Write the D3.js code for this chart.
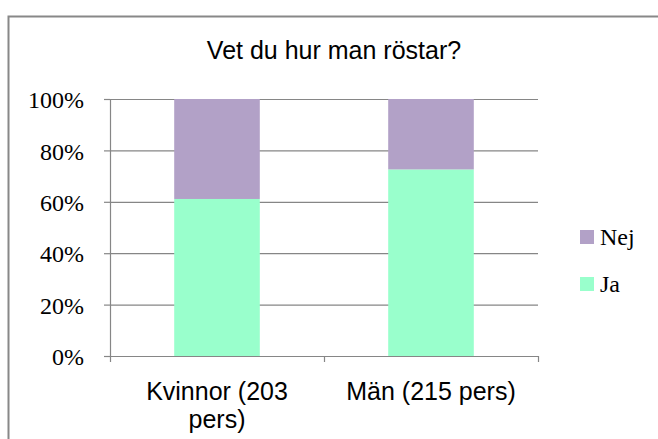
<!DOCTYPE html>
<html>
<head>
<meta charset="utf-8">
<script src="https://cdn.jsdelivr.net/npm/d3@7"></script>
<style>
  body { margin: 0; background: #fff; }
  svg { display: block; }
</style>
</head>
<body>
<svg id="chart"></svg>
<script>
// data
const categories = [['Kvinnor (203', 'pers)'], ['Män (215 pers)']];
const series = ['Ja', 'Nej'];
const jaValues = [0.611, 0.726];
const nejValues = [0.389, 0.274];
const yTicks = [0, 0.2, 0.4, 0.6, 0.8, 1];
const colors = {Ja: '#99ffcc', Nej: '#b2a1c7'};

const width = 658, height = 439;
const margin = {top: 99, right: 120, bottom: 83, left: 110};
const innerW = width - margin.left - margin.right;
const innerH = height - margin.top - margin.bottom;

const svg = d3.select('#chart')
    .attr('width', width)
    .attr('height', height);

// chart border (right and bottom run off the picture)
svg.append('rect')
    .attr('x', 8.5).attr('y', 16.5)
    .attr('width', 700).attr('height', 500)
    .attr('fill', 'none')
    .attr('stroke', '#888')
    .attr('stroke-width', 2);

svg.append('text')
    .attr('x', 334).attr('y', 59)
    .attr('text-anchor', 'middle')
    .style('font-family', '"Liberation Sans", Arial, sans-serif')
    .style('font-size', '25px')
    .text('Vet du hur man röstar?');

const chart = svg.append('g')
    .attr('transform', `translate(${margin.left},${margin.top})`);

const rows = categories.map((c, i) => ({key: i, Ja: jaValues[i], Nej: nejValues[i]}));
const stacked = d3.stack().keys(series)(rows);

const xScale = d3.scaleBand()
    .domain(rows.map(d => d.key))
    .range([0, innerW])
    .paddingInner(0.6)
    .paddingOuter(0.3);

const yScale = d3.scaleLinear()
    .domain([0, 1])
    .range([innerH, 0]);

// gridlines
chart.append('g')
    .selectAll('line')
    .data(yTicks)
    .join('line')
    .attr('x1', 0).attr('x2', innerW)
    .attr('y1', d => yScale(d) + 0.5).attr('y2', d => yScale(d) + 0.5)
    .attr('stroke', '#868686')
    .attr('stroke-width', 1.2);

// bars
chart.selectAll('.layer')
    .data(stacked)
    .join('g')
    .attr('class', 'layer')
    .attr('fill', d => colors[d.key])
    .selectAll('rect')
    .data(d => d)
    .join('rect')
    .attr('x', d => xScale(d.data.key))
    .attr('width', xScale.bandwidth())
    .attr('y', d => yScale(d[1]))
    .attr('height', d => yScale(d[0]) - yScale(d[1]));

// y axis
const yAxis = d3.axisLeft(yScale)
    .tickValues(yTicks)
    .tickSize(6)
    .tickPadding(20)
    .tickFormat(d3.format('.0%'));

const yAxisG = chart.append('g').call(yAxis);
yAxisG.selectAll('line, path').attr('stroke', '#868686').attr('stroke-width', 1.2);
yAxisG.select('.domain').attr('d', `M0.5,0V${innerH}`);
yAxisG.selectAll('text')
    .attr('dy', '0.36em')
    .attr('fill', '#000')
    .style('font-family', '"Liberation Serif", "Times New Roman", serif')
    .style('font-size', '24px');

// x axis with category separators
const xAxisG = chart.append('g')
    .attr('transform', `translate(0,${innerH})`);
xAxisG.append('line')
    .attr('x1', 0).attr('x2', innerW)
    .attr('y1', 0.5).attr('y2', 0.5)
    .attr('stroke', '#868686')
    .attr('stroke-width', 1.2);
const step = innerW / categories.length;
xAxisG.selectAll('.sep')
    .data(d3.range(categories.length + 1))
    .join('line')
    .attr('class', 'sep')
    .attr('x1', d => d * step + 0.5).attr('x2', d => d * step + 0.5)
    .attr('y1', 0).attr('y2', 6)
    .attr('stroke', '#868686')
    .attr('stroke-width', 1.2);

xAxisG.selectAll('.cat')
    .data(categories)
    .join('text')
    .attr('class', 'cat')
    .attr('text-anchor', 'middle')
    .attr('transform', (d, i) => `translate(${xScale(i) + xScale.bandwidth() / 2},44)`)
    .style('font-family', '"Liberation Sans", Arial, sans-serif')
    .style('font-size', '25px')
    .selectAll('tspan')
    .data(d => d)
    .join('tspan')
    .attr('x', 0)
    .attr('y', (d, i) => i * 28)
    .text(d => d);

// legend
const legend = svg.append('g')
    .attr('transform', 'translate(580,230)');
const legendItems = legend.selectAll('g')
    .data(series.slice().reverse())
    .join('g')
    .attr('transform', (d, i) => `translate(0,${i * 47})`);
legendItems.append('rect')
    .attr('width', 14).attr('height', 14)
    .attr('fill', d => colors[d]);
legendItems.append('text')
    .attr('x', 20).attr('y', 15)
    .style('font-family', '"Liberation Serif", "Times New Roman", serif')
    .style('font-size', '24px')
    .text(d => d);
</script>
</body>
</html>
